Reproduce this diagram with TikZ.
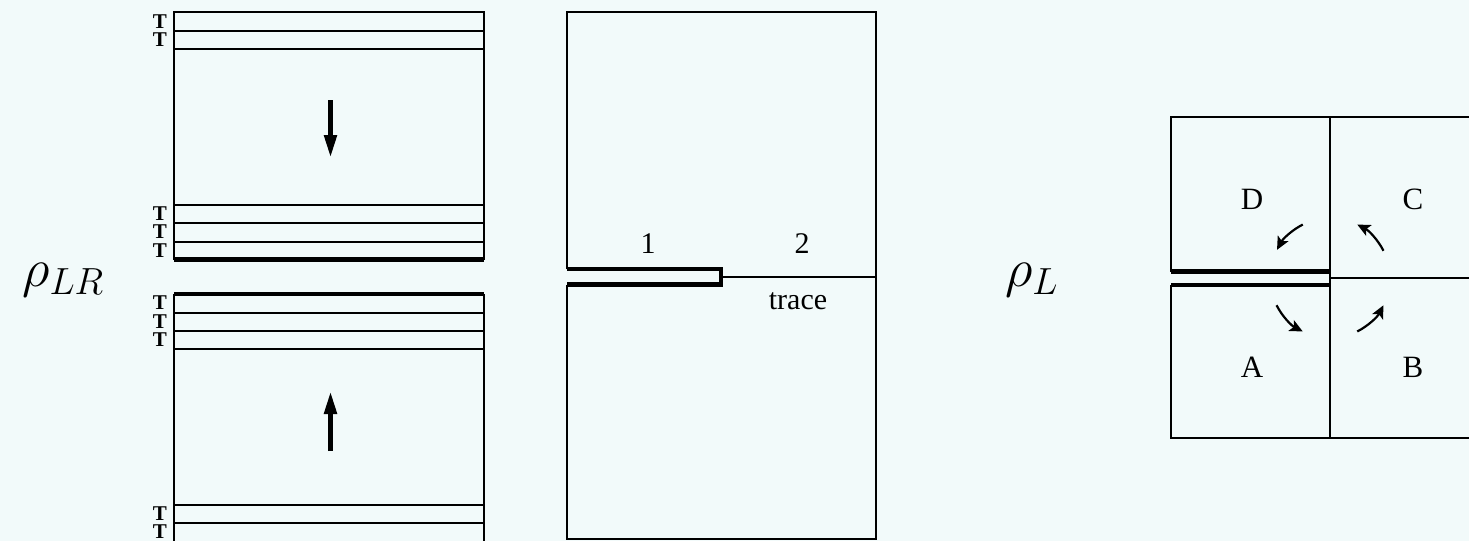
\documentclass[tikz,border=0pt]{standalone}
\usepackage{fix-cm}
\usepackage{fontspec}
\newfontfamily\labelfont{Liberation Serif}
\usetikzlibrary{arrows.meta}
\definecolor{paper}{RGB}{242,250,250}
\tikzset{
  thinline/.style={line width=1.2pt},
  cutline/.style={line width=4.8pt},
  tlabel/.style={font=\labelfont\bfseries\fontsize{21}{23}\selectfont, inner sep=0pt},
  seclabel/.style={font=\labelfont\fontsize{30}{30}\selectfont, inner sep=0pt},
  quadlabel/.style={font=\labelfont\fontsize{31}{31}\selectfont, inner sep=0pt},
  rholabel/.style={font=\fontsize{54}{60}\selectfont, inner sep=0pt},
  flow/.style={line width=5pt, -{Triangle[length=23pt,width=12pt]}},
  turn/.style={line width=2.2pt, -{Stealth[length=13pt,width=12pt,inset=3pt]}}
}
\begin{document}
\begin{tikzpicture}[x=1pt,y=-1pt]
    \useasboundingbox (0,0) rectangle (1469,541);
    \fill[paper] (0,0) rectangle (1469,541);
    % Left: two slabs of rows, cut along the thick lines
    \node[rholabel] (rhoLR) at (63,280) {$\rho_{LR}$};
    \draw[thinline] (174,259.7) -- (174,12) -- (484,12) -- (484,259.7);
    \foreach \y in {31,49,205,223,242}
        \draw[thinline] (174,\y) -- (484,\y);
    \draw[cutline] (174,259.7) -- (484,259.7);
    \draw[thinline] (174,294) -- (174,541);
    \draw[thinline] (484,294) -- (484,541);
    \foreach \y in {313,331,349,505,523}
        \draw[thinline] (174,\y) -- (484,\y);
    \draw[cutline] (174,294) -- (484,294);
    \foreach \y [count=\i] in {21.5,40,213.5,232,250.5,303,321.5,340,514,532}
        \node[tlabel] (t\i) at (160,\y) {T};
    % Flow towards the cut
    \coordinate (dnTail) at (330.5,100);
    \coordinate (dnTip) at (330.5,158);
    \coordinate (upTail) at (330.5,451);
    \coordinate (upTip) at (330.5,391);
    \draw[flow] (dnTail) -- (dnTip);
    \draw[flow] (upTail) -- (upTip);
    % Middle: sheet with a slit on the left half
    \draw[thinline] (567,269) -- (567,12) -- (876,12) -- (876,539) -- (567,539) -- (567,284.5);
    \draw[cutline] (567,269) -- (721,269) -- (721,284.5) -- (567,284.5);
    \draw[thinline] (721,277) -- (876,277);
    \node[seclabel] (one) at (648,244) {1};
    \node[seclabel] (two) at (802,244) {2};
    \node[seclabel] (trace) at (798,301) {trace};
    % Right: four quadrants around the end of the cut
    \node[rholabel] (rhoL) at (1031.5,280.5) {$\rho_{L}$};
    \draw[thinline] (1171,271.7) -- (1171,117) -- (1469,117);
    \draw[thinline] (1171,285) -- (1171,438) -- (1469,438);
    \draw[thinline] (1330,117) -- (1330,438);
    \draw[thinline] (1330,278) -- (1469,278);
    \draw[cutline] (1171,271.7) -- (1331,271.7);
    \draw[cutline] (1171,285) -- (1331,285);
    \node[quadlabel] (quadD) at (1252,199) {D};
    \node[quadlabel] (quadC) at (1413,199) {C};
    \node[quadlabel] (quadA) at (1252,367) {A};
    \node[quadlabel] (quadB) at (1413,367) {B};
    \coordinate (grid) at (1330,278);
    \draw[turn] ([shift={(-117:60)}]grid) arc[start angle=-117,end angle=-152,radius=60];
    \draw[turn] ([shift={(-27:60)}]grid) arc[start angle=-27,end angle=-63,radius=60];
    \draw[turn] ([shift={(153:60)}]grid) arc[start angle=153,end angle=117,radius=60];
    \draw[turn] ([shift={(63:60)}]grid) arc[start angle=63,end angle=27,radius=60];
\end{tikzpicture}
\end{document}
